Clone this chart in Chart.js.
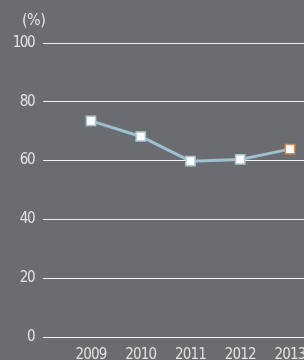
<!DOCTYPE html>
<html>
<head>
<meta charset="utf-8">
<script src="https://cdn.jsdelivr.net/npm/chart.js@4"></script>
<style>
  html, body { margin: 0; padding: 0; background: #6b6c70; overflow: hidden; }
  #wrap { position: relative; width: 304px; height: 360px; overflow: hidden; }
  #unit { position: absolute; left: 22px; top: 10px; color: #e2e2e2;
          font-family: "DejaVu Sans", sans-serif; font-size: 16px; font-stretch: condensed; letter-spacing: -0.5px; }
  canvas { position: absolute; left: 0; top: 0; }
</style>
</head>
<body>
<div id="wrap">
  <canvas id="myChart" width="340" height="360"></canvas>
  <div id="unit">(%)</div>
</div>
<script>
const years = [2009, 2010, 2011, 2012, 2013];
const values = [73.5, 68.2, 59.8, 60.4, 63.9];
const yTicks = [0, 20, 40, 60, 80, 100];

const pointBorders = years.map((y, i) => i === years.length - 1 ? '#d98c55' : '#a9c7d3');
const fontFamily = '"DejaVu Sans", sans-serif';
// weight + stretch go into the canvas font string together
const fontWeight = 'normal condensed';

// squeeze tick text a little, the original uses a narrow face
function tighten(axis, spacing) {
  if (axis._tight) return;
  axis._tight = true;
  const orig = axis.drawLabels;
  axis.drawLabels = function (area) {
    this.ctx.save();
    this.ctx.letterSpacing = spacing;
    orig.call(this, area);
    this.ctx.restore();
  };
}

const data = {
  datasets: [{
    data: years.map((y, i) => ({ x: y, y: values[i] })),
    borderColor: '#9cc0cf',
    borderWidth: 3,
    pointStyle: 'rect',
    pointRadius: 6.5,
    pointBorderWidth: 1.5,
    pointBackgroundColor: '#ffffff',
    pointBorderColor: pointBorders
  }]
};

const config = {
  type: 'line',
  data: data,
  options: {
    responsive: false,
    animation: false,
    layout: { padding: { top: 43, right: 0, left: 0, bottom: 0 } },
    plugins: { legend: { display: false }, tooltip: { enabled: false } },
    scales: {
      x: {
        type: 'linear',
        min: 2008.035,
        max: 2013.845,
        afterBuildTicks: (axis) => { axis.ticks = years.map(v => ({ value: v })); },
        afterFit: (axis) => { axis.height = 23; tighten(axis, '-0.8px'); },
        grid: { display: false },
        border: { display: false },
        ticks: {
          color: '#e2e2e2',
          padding: 1,
          maxRotation: 0,
          font: { family: fontFamily, size: 15, weight: fontWeight },
          callback: (v) => String(v)
        }
      },
      y: {
        min: 0,
        max: 100,
        afterBuildTicks: (axis) => { axis.ticks = yTicks.map(v => ({ value: v })); },
        afterFit: (axis) => { axis.width = 43; tighten(axis, '-1.5px'); },
        grid: { color: '#f2f2f2', lineWidth: 1, drawTicks: false },
        border: { display: false },
        ticks: {
          color: '#e2e2e2',
          padding: 9,
          font: { family: fontFamily, size: 15, weight: fontWeight }
        }
      }
    }
  }
};

// Connect the chart to the DOM
const ctx = document.getElementById('myChart').getContext('2d');
const myChart = new Chart(ctx, config);
</script>
</body>
</html>
